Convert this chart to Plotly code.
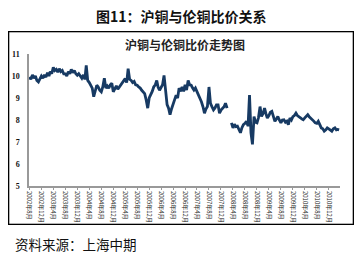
import plotly.graph_objects as go

# half-monthly readings (1st and 16th of each month), starting Aug 2002
start_year, start_month = 2002, 8
ratio = [
    9.95, 9.85, 10.05, 9.9, 10.0, 9.8, 9.73, 9.9, 10.0, 9.9,
    10.05, 9.95, 10.15, 10.0, 10.2, 10.1, 10.4, 10.25, 10.3, 10.18,
    10.33, 10.2, 10.25, 10.1, 10.1, 10.0, 10.2, 10.1, 10.3, 10.15,
    10.25, 10.1, 10.03, 10.1, 10.0, 9.9, 10.05, 9.85, 10.48, 9.8,
    9.7, 9.55, 9.45, 9.06, 9.4, 9.58, 9.5, 9.35, 9.28, 9.5,
    9.9, 9.45, 9.55, 9.45, 9.6, 9.67, 9.28, 9.45, 9.55, 9.4,
    9.5, 9.6, 9.65, 9.75, 9.88, 9.7, 10.33, 9.85, 9.8, 9.7,
    9.75, 9.6, 9.58, 9.5, 9.45, 9.35, 9.28, 9.2, 8.9, 8.54,
    9.0, 9.13, 9.3, 9.5, 9.6, 9.8, 9.5, 9.35, 9.5, 9.6,
    10.03, 9.3, 8.7, 8.54, 8.24, 8.5, 8.69, 8.9, 9.13, 9.0,
    9.45, 9.3, 9.5, 9.3, 9.6, 9.36, 9.8, 9.6, 9.58, 9.45,
    9.36, 9.45, 9.3, 9.13, 9.0, 8.83, 8.6, 8.31, 8.5, 8.61,
    9.5, 8.76, 8.6, 8.46, 8.55, 8.69, 8.69, 8.31, 8.45, 8.54,
    8.6, 8.76, 8.54, None, None, 7.87, 7.64, 7.8, 7.7, 7.72,
    7.55, 7.42, 7.65, 7.79, 7.85, 7.94, 7.72, 9.13, 7.42, 6.89,
    8.16, 7.9, 7.87, 8.1, 8.61, 8.16, 8.3, 8.54, 8.3, 8.09,
    8.2, 8.35, 8.39, 8.15, 7.94, 8.05, 8.16, 8.0, 7.87, 8.0,
    8.01, 7.9, 7.95, 7.79, 8.09, 8.0, 8.15, 8.2, 8.31, 8.2,
    8.16, 8.1, 8.05, 8.01, 8.1, 8.15, 8.24, 8.15, 8.09, 8.0,
    7.95, 7.87, 7.85, 7.94, 7.75, 7.64, 7.6, 7.49, 7.55, 7.64,
    7.6, 7.55, 7.49, 7.6, 7.64, 7.55, 7.57, 7.55,
]

dates = []
for i in range(len(ratio)):
    m = start_month - 1 + i // 2
    y = start_year + m // 12
    mo = m % 12 + 1
    d = "01" if i % 2 == 0 else "16"
    dates.append(f"{y:04d}-{mo:02d}-{d}")

tick_dates = []
tick_labels = []
for k in range(26):
    m = start_month - 1 + 4 * k
    y = start_year + m // 12
    mo = m % 12 + 1
    tick_dates.append(f"{y:04d}-{mo:02d}-01")
    tick_labels.append(f"{y}年{mo}月")

y_ticks = [5, 6, 7, 8, 9, 10, 11]

W, H = 355, 257
L, R, T, B = 21, 15, 54, 71
pw, ph = W - L - R, H - T - B

def px(xp):
    return (xp - L) / pw

def py(yp):
    return (H - B - yp) / ph

CJK = "Noto Sans CJK SC"

fig = go.Figure()
fig.add_trace(go.Scatter(
    x=dates, y=ratio, mode="lines",
    line=dict(color="#173a63", width=2.8),
    connectgaps=False, showlegend=False,
))

fig.update_layout(
    width=W, height=H,
    margin=dict(l=L, r=R, t=T, b=B),
    paper_bgcolor="white", plot_bgcolor="white",
    showlegend=False,
    xaxis=dict(
        range=["2002-07-28", "2011-03-25"],
        tickmode="array", tickvals=tick_dates, ticktext=tick_labels,
        tickangle=90, tickfont=dict(family=CJK, size=6, color="#222"),
        showgrid=False, zeroline=False,
        showline=True, linecolor="#999", linewidth=1.5,
        ticks="outside", ticklen=2, tickcolor="#999",
    ),
    yaxis=dict(
        range=[5, 11], tickvals=y_ticks,
        tickfont=dict(family="Liberation Serif", size=8, color="#111", weight="bold"),
        showgrid=False, zeroline=False,
        showline=True, linecolor="#999", linewidth=1.5,
        ticks="", ticklabelstandoff=6,
    ),
    annotations=[
        dict(text=" ", xref="paper", yref="paper",
             x=px(176.5), y=py(127.5), showarrow=False,
             xanchor="center", yanchor="middle",
             width=343, height=191, borderpad=0,
             bordercolor="black", borderwidth=1.3,
             font=dict(size=1)),
        dict(text="<b>图11：沪铜与伦铜比价关系</b>", xref="paper", yref="paper",
             x=px(177), y=py(16), showarrow=False, xanchor="center", yanchor="middle",
             font=dict(family=CJK, size=14, color="#111")),
        dict(text="<b>沪铜与伦铜比价走势图</b>", xref="paper", yref="paper",
             x=px(181), y=py(44), showarrow=False, xanchor="center", yanchor="middle",
             font=dict(family=CJK, size=12, color="#222")),
        dict(text="资料来源：上海中期", xref="paper", yref="paper",
             x=px(5), y=py(244), showarrow=False, xanchor="left", yanchor="middle",
             font=dict(family=CJK, size=13.5, color="#111")),
    ],
)

fig.write_html("out.html")
